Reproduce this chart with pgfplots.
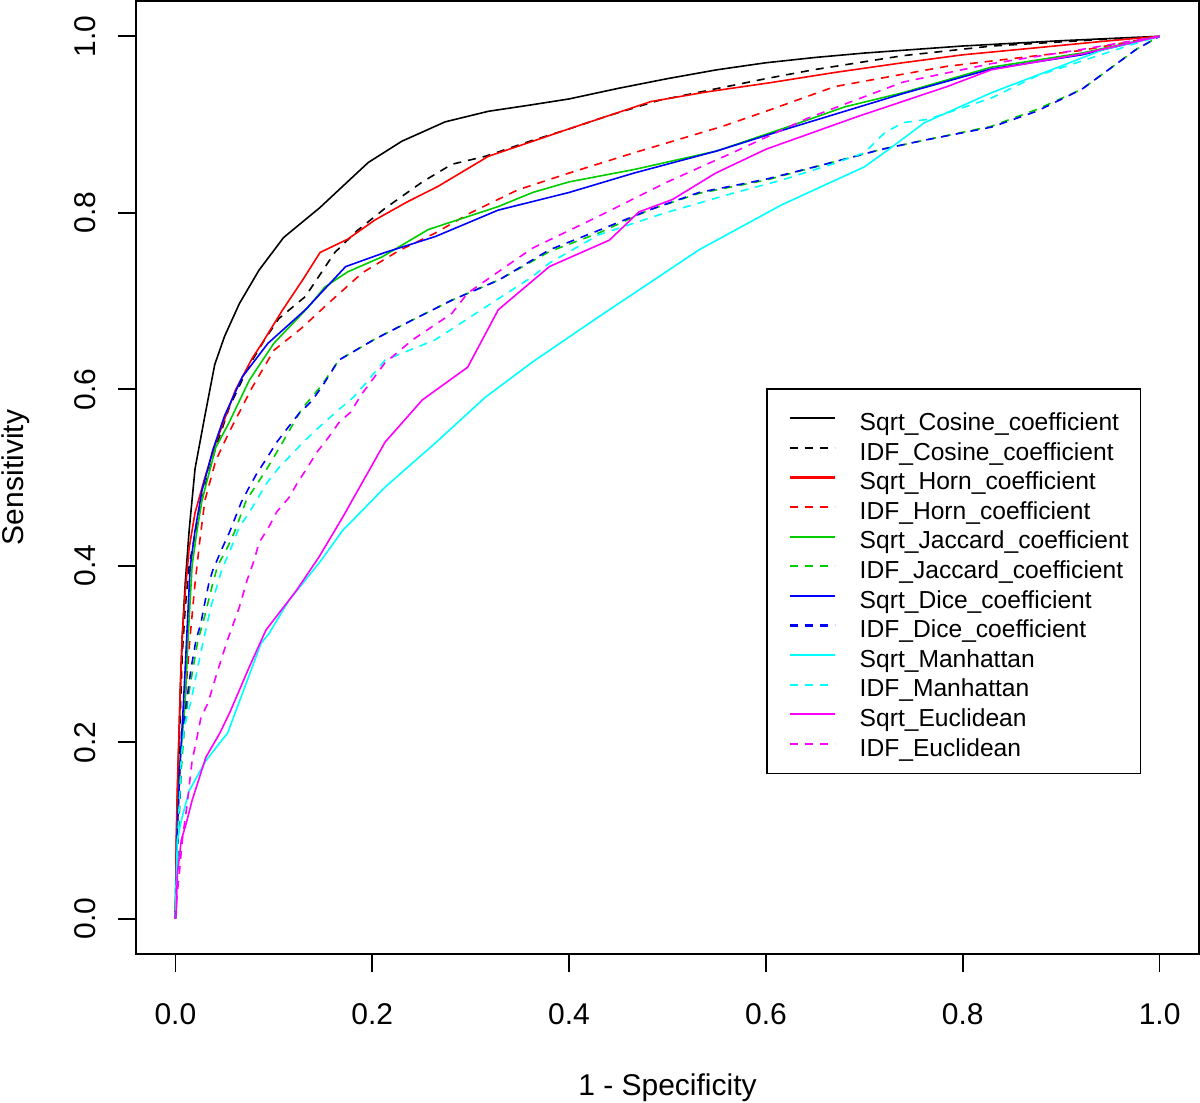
\documentclass[border=0pt]{standalone}
\usepackage{pgfplots}
\pgfplotsset{compat=1.18}
\usepackage{fontspec}
\setmainfont{Liberation Sans}
\definecolor{rgreen}{RGB}{0,205,0}
\definecolor{rblue}{RGB}{0,0,255}
\definecolor{rred}{RGB}{255,0,0}
\definecolor{rcyan}{RGB}{0,255,255}
\definecolor{rmag}{RGB}{255,0,255}
\begin{document}
\begin{tikzpicture}
\begin{axis}[name=ax, scale only axis, width=531.5pt, height=476.5pt,
  xmin=-0.04, xmax=1.04, ymin=-0.04, ymax=1.04,
  axis line style={line width=0.8pt},
  xtick={0,0.2,0.4,0.6,0.8,1}, xticklabels={0.0,0.2,0.4,0.6,0.8,1.0},
  ytick={0,0.2,0.4,0.6,0.8,1}, yticklabels={0.0,0.2,0.4,0.6,0.8,1.0},
  xtick pos=bottom, ytick pos=left, tick align=outside, major tick length=9pt,
  tick style={black, line width=0.8pt},
  tick label style={font=\fontsize{15}{18}\selectfont},
  xticklabel style={anchor=center, yshift=-21pt},
  yticklabel style={anchor=center, xshift=-16.5pt, rotate=90},
  xlabel={1 - Specificity}, ylabel={Sensitivity},
  label style={font=\fontsize{15}{18}\selectfont},
  xlabel style={at={(axis description cs:0.5,-0.1406)}, anchor=center},
  ylabel style={at={(axis description cs:-0.1129,0.5)}, anchor=center},
  every axis plot/.append style={line width=0.8pt},
  legend style={at={(rel axis cs:0.5927,0.5939)}, anchor=north west, draw=black, line width=0.8pt, fill=white,
    font=\fontsize{12.3}{14.8}\selectfont, inner xsep=6pt, inner ysep=7.35pt, row sep=0pt,
    nodes={inner sep=0pt, text height=13.45pt, text depth=1.35pt},
    /tikz/every odd column/.append style={column sep=12pt}},
  legend cell align=left,
  legend image code/.code={\path (0pt,0pt); \draw[#1, line width=1.1pt] (5pt,0pt) -- (27.5pt,0pt);},
]
% Sqrt_Cosine
\addplot[black] coordinates {(0,0) (0.001,0.08) (0.003,0.18) (0.005,0.26) (0.007,0.32) (0.010,0.38) (0.014,0.44) (0.020,0.51) (0.030,0.57) (0.040,0.628) (0.050,0.66) (0.065,0.697) (0.085,0.735) (0.110,0.772) (0.147,0.806) (0.170,0.83) (0.196,0.857) (0.230,0.881) (0.274,0.903) (0.318,0.915) (0.36,0.922) (0.40,0.929) (0.45,0.941) (0.50,0.952) (0.55,0.962) (0.60,0.970) (0.65,0.976) (0.70,0.981) (0.80,0.989) (0.90,0.995) (1,1)};
\addlegendentry{Sqrt\_Cosine\_coefficient}
% IDF_Cosine
\addplot[black, dash pattern=on 4pt off 3.5pt] coordinates {(0,0) (0.002,0.12) (0.004,0.2) (0.007,0.3) (0.010,0.352) (0.014,0.40) (0.020,0.436) (0.030,0.49) (0.041,0.534) (0.055,0.58) (0.074,0.625) (0.09,0.655) (0.105,0.68) (0.132,0.705) (0.162,0.755) (0.185,0.78) (0.213,0.805) (0.251,0.835) (0.281,0.855) (0.315,0.864) (0.36,0.881) (0.40,0.895) (0.44,0.91) (0.49,0.927) (0.547,0.94) (0.60,0.952) (0.648,0.962) (0.739,0.978) (0.83,0.989) (0.92,0.995) (1,1)};
\addlegendentry{IDF\_Cosine\_coefficient}
% Sqrt_Horn
\addplot[rred] coordinates {(0,0) (0.001,0.1) (0.002,0.15) (0.004,0.22) (0.005,0.26) (0.007,0.32) (0.010,0.37) (0.014,0.42) (0.020,0.46) (0.030,0.50) (0.041,0.539) (0.061,0.599) (0.078,0.635) (0.088,0.652) (0.109,0.69) (0.13,0.725) (0.147,0.755) (0.175,0.77) (0.203,0.792) (0.235,0.812) (0.267,0.83) (0.30,0.852) (0.318,0.864) (0.363,0.881) (0.397,0.894) (0.44,0.91) (0.483,0.926) (0.54,0.937) (0.602,0.947) (0.67,0.959) (0.739,0.97) (0.80,0.979) (0.875,0.987) (0.94,0.994) (1,1)};
\addlegendentry{Sqrt\_Horn\_coefficient}
% IDF_Horn
\addplot[rred, dash pattern=on 4pt off 3.5pt] coordinates {(0,0) (0.002,0.08) (0.005,0.16) (0.010,0.25) (0.015,0.32) (0.020,0.38) (0.025,0.43) (0.030,0.474) (0.041,0.519) (0.054,0.55) (0.078,0.602) (0.10,0.644) (0.129,0.67) (0.155,0.697) (0.19,0.732) (0.227,0.757) (0.264,0.777) (0.30,0.80) (0.348,0.826) (0.40,0.845) (0.466,0.868) (0.556,0.898) (0.60,0.915) (0.67,0.943) (0.739,0.957) (0.784,0.966) (0.921,0.984) (1,1)};
\addlegendentry{IDF\_Horn\_coefficient}
% Sqrt_Jaccard
\addplot[rgreen] coordinates {(0,0) (0.002,0.1) (0.005,0.18) (0.010,0.247) (0.013,0.32) (0.017,0.40) (0.022,0.44) (0.027,0.474) (0.041,0.534) (0.054,0.561) (0.075,0.61) (0.10,0.652) (0.135,0.693) (0.152,0.716) (0.175,0.733) (0.21,0.75) (0.257,0.781) (0.328,0.807) (0.363,0.823) (0.40,0.835) (0.466,0.849) (0.55,0.87) (0.624,0.898) (0.68,0.92) (0.739,0.936) (0.829,0.965) (0.921,0.981) (1,1)};
\addlegendentry{Sqrt\_Jaccard\_coefficient}
% IDF_Jaccard
\addplot[rgreen, dash pattern=on 4pt off 3.5pt] coordinates {(0,0) (0.003,0.09) (0.006,0.17) (0.009,0.213) (0.013,0.251) (0.018,0.284) (0.023,0.316) (0.028,0.335) (0.032,0.353) (0.038,0.38) (0.043,0.40) (0.053,0.421) (0.060,0.438) (0.072,0.474) (0.092,0.508) (0.109,0.54) (0.128,0.577) (0.149,0.605) (0.166,0.633) (0.203,0.657) (0.24,0.678) (0.281,0.701) (0.329,0.724) (0.38,0.756) (0.43,0.777) (0.481,0.803) (0.532,0.822) (0.60,0.837) (0.667,0.857) (0.718,0.872) (0.76,0.882) (0.829,0.898) (0.875,0.917) (0.921,0.94) (0.976,0.985) (1,1)};
\addlegendentry{IDF\_Jaccard\_coefficient}
% Sqrt_Dice
\addplot[rblue] coordinates {(0,0) (0.002,0.1) (0.005,0.18) (0.008,0.24) (0.010,0.284) (0.015,0.398) (0.020,0.44) (0.027,0.485) (0.038,0.531) (0.05,0.57) (0.068,0.614) (0.094,0.652) (0.132,0.69) (0.173,0.739) (0.213,0.755) (0.264,0.773) (0.328,0.803) (0.40,0.823) (0.466,0.845) (0.55,0.87) (0.624,0.896) (0.739,0.935) (0.829,0.963) (0.921,0.979) (1,1)};
\addlegendentry{Sqrt\_Dice\_coefficient}
% IDF_Dice
\addplot[rblue, dash pattern=on 4pt off 3.5pt] coordinates {(0,0) (0.003,0.1) (0.006,0.183) (0.007,0.213) (0.012,0.251) (0.016,0.284) (0.021,0.316) (0.026,0.335) (0.029,0.353) (0.034,0.38) (0.038,0.395) (0.048,0.421) (0.055,0.438) (0.067,0.472) (0.075,0.489) (0.083,0.505) (0.093,0.522) (0.103,0.54) (0.114,0.556) (0.126,0.573) (0.138,0.586) (0.149,0.603) (0.166,0.633) (0.203,0.657) (0.24,0.678) (0.281,0.701) (0.329,0.724) (0.38,0.758) (0.43,0.78) (0.481,0.803) (0.532,0.823) (0.60,0.838) (0.667,0.857) (0.718,0.872) (0.76,0.882) (0.829,0.897) (0.875,0.915) (0.921,0.94) (0.976,0.985) (1,1)};
\addlegendentry{IDF\_Dice\_coefficient}
% Sqrt_Manhattan
\addplot[rcyan] coordinates {(0,0) (0.001,0.04) (0.002,0.089) (0.006,0.111) (0.014,0.145) (0.031,0.179) (0.047,0.202) (0.053,0.21) (0.068,0.255) (0.087,0.312) (0.095,0.323) (0.115,0.36) (0.148,0.406) (0.17,0.44) (0.213,0.489) (0.264,0.539) (0.315,0.591) (0.363,0.631) (0.43,0.682) (0.532,0.758) (0.616,0.809) (0.70,0.852) (0.725,0.872) (0.761,0.902) (0.829,0.936) (0.897,0.965) (0.943,0.985) (1,1)};
\addlegendentry{Sqrt\_Manhattan}
% IDF_Manhattan
\addplot[rcyan, dash pattern=on 4pt off 3.5pt] coordinates {(0,0) (0.002,0.08) (0.006,0.183) (0.009,0.217) (0.016,0.247) (0.022,0.281) (0.029,0.318) (0.036,0.353) (0.041,0.372) (0.047,0.395) (0.057,0.421) (0.065,0.444) (0.075,0.46) (0.093,0.494) (0.105,0.511) (0.118,0.526) (0.129,0.539) (0.143,0.554) (0.154,0.565) (0.166,0.577) (0.18,0.59) (0.192,0.605) (0.213,0.633) (0.264,0.656) (0.315,0.693) (0.362,0.727) (0.38,0.743) (0.43,0.775) (0.498,0.80) (0.566,0.822) (0.616,0.837) (0.667,0.855) (0.70,0.868) (0.72,0.89) (0.739,0.902) (0.765,0.906) (0.829,0.93) (0.875,0.955) (0.921,0.972) (0.97,0.99) (1,1)};
\addlegendentry{IDF\_Manhattan}
% Sqrt_Euclidean
\addplot[rmag] coordinates {(0,0) (0.001,0.008) (0.002,0.05) (0.006,0.089) (0.011,0.108) (0.017,0.134) (0.031,0.183) (0.045,0.21) (0.055,0.233) (0.075,0.285) (0.092,0.327) (0.123,0.372) (0.146,0.41) (0.17,0.455) (0.213,0.54) (0.251,0.588) (0.297,0.625) (0.328,0.69) (0.38,0.739) (0.441,0.769) (0.471,0.801) (0.505,0.815) (0.549,0.845) (0.60,0.872) (0.693,0.909) (0.784,0.943) (0.829,0.962) (0.921,0.98) (1,1)};
\addlegendentry{Sqrt\_Euclidean}
% IDF_Euclidean
\addplot[rmag, dash pattern=on 4pt off 3.5pt] coordinates {(0,0) (0.002,0.03) (0.004,0.051) (0.007,0.089) (0.012,0.13) (0.017,0.179) (0.021,0.2) (0.026,0.228) (0.033,0.244) (0.043,0.281) (0.053,0.316) (0.065,0.353) (0.073,0.384) (0.080,0.406) (0.085,0.426) (0.095,0.444) (0.103,0.461) (0.116,0.478) (0.124,0.494) (0.134,0.511) (0.144,0.529) (0.156,0.546) (0.166,0.562) (0.178,0.574) (0.189,0.594) (0.213,0.63) (0.241,0.656) (0.281,0.686) (0.297,0.709) (0.346,0.747) (0.363,0.76) (0.43,0.796) (0.498,0.834) (0.566,0.868) (0.642,0.907) (0.739,0.948) (0.829,0.969) (0.92,0.985) (1,1)};
\addlegendentry{IDF\_Euclidean}
\end{axis}
\pgfresetboundingbox
\path[use as bounding box] ([xshift=-68pt,yshift=-74.5pt]ax.south west) rectangle ([xshift=0.5pt,yshift=0.5pt]ax.north east);
\end{tikzpicture}
\end{document}
